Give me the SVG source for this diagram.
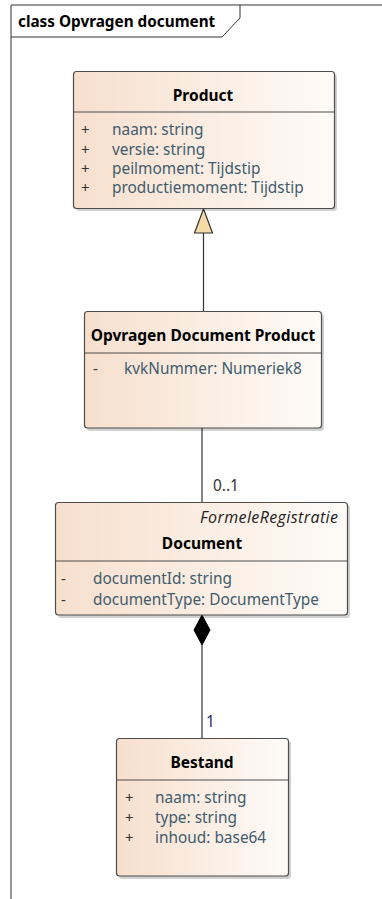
<svg xmlns="http://www.w3.org/2000/svg" width="382" height="899" viewBox="0 0 382 899">
<style>
.box{stroke:#4d4d4d;stroke-width:1.2;fill:url(#g)}
.sh{fill:#000;opacity:0.18}
.sep{stroke:#4d4d4d;stroke-width:1}
.ttl{font-family:"Noto Sans","Open Sans",sans-serif;font-size:15.5px;font-weight:bold;fill:#000;text-anchor:middle}
.att{font-family:"Noto Sans","Open Sans",sans-serif;font-size:15.4px;fill:#3f5b6d}
.vis{font-family:"Noto Sans","Open Sans",sans-serif;font-size:15px;fill:#333}
.ln{stroke:#333;stroke-width:1.2;fill:none}
.lbl{font-family:"Noto Sans","Open Sans",sans-serif;font-size:15.4px;fill:#333}
</style>
<defs>
<linearGradient id="g" x1="0" y1="0" x2="1" y2="0">
<stop offset="0" stop-color="#f7dfcd"/>
<stop offset="1" stop-color="#fefbf8"/>
</linearGradient>
</defs>
<rect width="382" height="899" fill="#fff"/>
<g id="frame">
<path d="M11,899 V5 H382" fill="none" stroke="#333" stroke-width="1"/>
<path d="M11,37 H222 L240,18 V5" fill="none" stroke="#333" stroke-width="1"/>
<text x="18" y="27" style="font-family:'Noto Sans','Open Sans',sans-serif;font-size:15.3px;font-weight:bold;fill:#000">class Opvragen document</text>
</g>
<g id="connectors">
<line class="ln" x1="203.5" y1="233" x2="203.5" y2="311"/>
<polygon points="203.5,209 194.5,233 212.5,233" fill="#f5d9a7" stroke="#333" stroke-width="1.2"/>
<line class="ln" x1="202" y1="428" x2="202" y2="502"/>
<text class="lbl" x="213" y="491">0..1</text>
<line class="ln" x1="202" y1="645" x2="202" y2="738"/>
<polygon points="202,615 210,630 202,645 194,630" fill="#000" stroke="#000" stroke-width="1"/>
<text class="lbl" x="206" y="727" style="fill:#1f2a6b">1</text>
</g>
<g id="product">
<rect class="sh" x="76" y="74" width="261" height="137" rx="3"/>
<rect class="box" x="73.5" y="71.5" width="261" height="137" rx="3"/>
<line class="sep" x1="73.5" y1="112" x2="334.5" y2="112"/>
<text class="ttl" x="203" y="101">Product</text>
<text class="vis" x="81" y="135">+</text><text class="att" x="112" y="135">naam: string</text>
<text class="vis" x="81" y="155">+</text><text class="att" x="112" y="155">versie: string</text>
<text class="vis" x="81" y="174">+</text><text class="att" x="112" y="174">peilmoment: Tijdstip</text>
<text class="vis" x="81" y="193">+</text><text class="att" x="112" y="193">productiemoment: Tijdstip</text>
</g>
<g id="opvragen">
<rect class="sh" x="87" y="314" width="237" height="117" rx="3"/>
<rect class="box" x="84.5" y="311.5" width="237" height="116.5" rx="3"/>
<line class="sep" x1="84.5" y1="353" x2="321.5" y2="353"/>
<text class="ttl" x="203" y="341">Opvragen Document Product</text>
<text class="vis" x="93" y="374">-</text><text class="att" x="124" y="374">kvkNummer: Numeriek8</text>
</g>
<g id="document">
<rect class="sh" x="58" y="505" width="292" height="113" rx="3"/>
<rect class="box" x="55.5" y="502.5" width="292" height="112.5" rx="3"/>
<line class="sep" x1="55.5" y1="561" x2="347.5" y2="561"/>
<text x="338" y="523" textLength="138" style="font-family:'Open Sans','Noto Sans',sans-serif;font-size:16px;font-style:italic;fill:#222;text-anchor:end">FormeleRegistratie</text>
<text class="ttl" x="202" y="549">Document</text>
<text class="vis" x="61" y="584">-</text><text class="att" x="93" y="584">documentId: string</text>
<text class="vis" x="61" y="605">-</text><text class="att" x="93" y="605">documentType: DocumentType</text>
</g>
<g id="bestand">
<rect class="sh" x="119" y="741" width="172" height="138" rx="3"/>
<rect class="box" x="116.5" y="738.5" width="172" height="137.5" rx="3"/>
<line class="sep" x1="116.5" y1="780" x2="288.5" y2="780"/>
<text class="ttl" x="202" y="768">Bestand</text>
<text class="vis" x="125" y="803">+</text><text class="att" x="155" y="803">naam: string</text>
<text class="vis" x="125" y="823">+</text><text class="att" x="155" y="823">type: string</text>
<text class="vis" x="125" y="843">+</text><text class="att" x="155" y="843">inhoud: base64</text>
</g>
</svg>
